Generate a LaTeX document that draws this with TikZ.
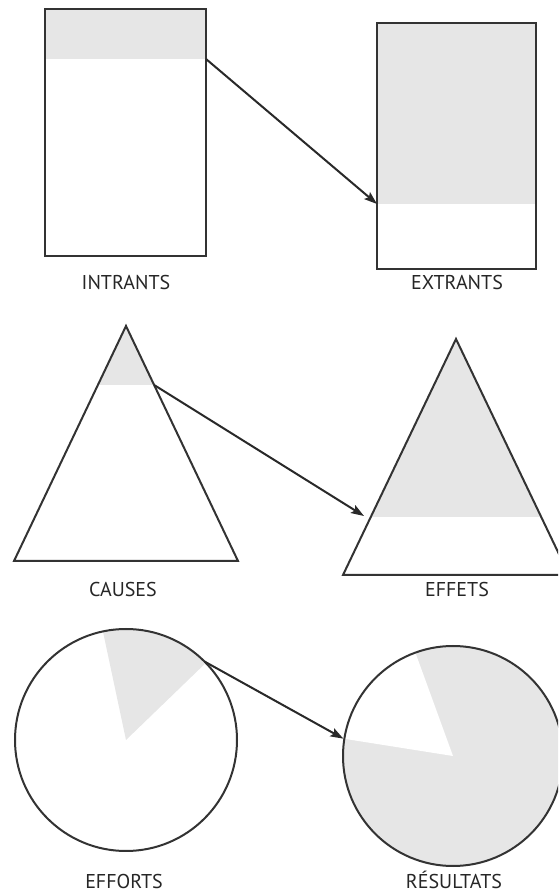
\documentclass[tikz,border=0pt]{standalone}
\usepackage{fontspec}
\setmainfont{PT Sans}
\usetikzlibrary{arrows.meta,calc}
\definecolor{part}{HTML}{E6E6E6}
\definecolor{ink}{HTML}{333333}

\begin{document}
\begin{tikzpicture}[x=1pt,y=1pt,
  outline/.style={draw=ink, line width=2pt, line join=miter},
  lbl/.style={font=\fontsize{20}{22}\selectfont, text=black!85, anchor=base, inner sep=0pt},
  link/.style={-{Stealth[length=13pt,width=9pt,inset=2.5pt]}, line width=2pt, draw=ink!80!black}]
\clip (0,0) rectangle (558,892);
% rectangles
\fill[part] (45,833) rectangle (206,883);
\fill[part] (377,688) rectangle (536,869);
\draw[outline] (45,636) rectangle (206,883);
\draw[outline] (377,623) rectangle (536,869);
\coordinate (intrOut) at (206,833);
\coordinate (extrIn) at (377,688);
\node[lbl] (intrants) at (126,602) {INTRANTS};
\node[lbl] (extrants) at (457,602) {EXTRANTS};
\draw[link] (intrOut) -- (extrIn);
% triangles
\coordinate (causeTop) at (126,566);
\coordinate (causeL) at (14,331);
\coordinate (causeR) at (238,331);
\coordinate (effTop) at (456,553);
\coordinate (effL) at (343,317);
\coordinate (effR) at (569,317);
\fill[part] (causeTop) -- ($(causeTop)!0.251!(causeL)$) -- ($(causeTop)!0.251!(causeR)$) -- cycle;
\fill[part] (effTop) -- ($(effTop)!0.754!(effL)$) -- ($(effTop)!0.754!(effR)$) -- cycle;
\draw[outline] (causeTop) -- (causeL) -- (causeR) -- cycle;
\draw[outline] (effTop) -- (effL) -- (effR) -- cycle;
\coordinate (causeOut) at ($(causeTop)!0.251!(causeR)$);
\coordinate (effIn) at (364,376);
\node[lbl] (causes) at (123,295) {CAUSES};
\node[lbl] (effets) at (457,295) {EFFETS};
\draw[link] (causeOut) -- (effIn);
% circles
\coordinate (effortC) at (126,152);
\coordinate (resultC) at (453,136);
\fill[part] (effortC) -- ++(44:111) arc[start angle=44, end angle=102, radius=111] -- cycle;
\fill[part] (resultC) circle[radius=110];
\fill[white] (resultC) -- ++(110:110) arc[start angle=110, end angle=171, radius=110] -- cycle;
\draw[outline] (effortC) circle[radius=111];
\draw[outline] (resultC) circle[radius=110];
\coordinate (effortOut) at ($(effortC)+(45:111)$);
\coordinate (resultIn) at ($(resultC)+(171:111)$);
\node[lbl] (efforts) at (124,4) {EFFORTS};
\node[lbl] (resultats) at (454,4) {RÉSULTATS};
\draw[link] (effortOut) -- (resultIn);
\end{tikzpicture}
\end{document}
